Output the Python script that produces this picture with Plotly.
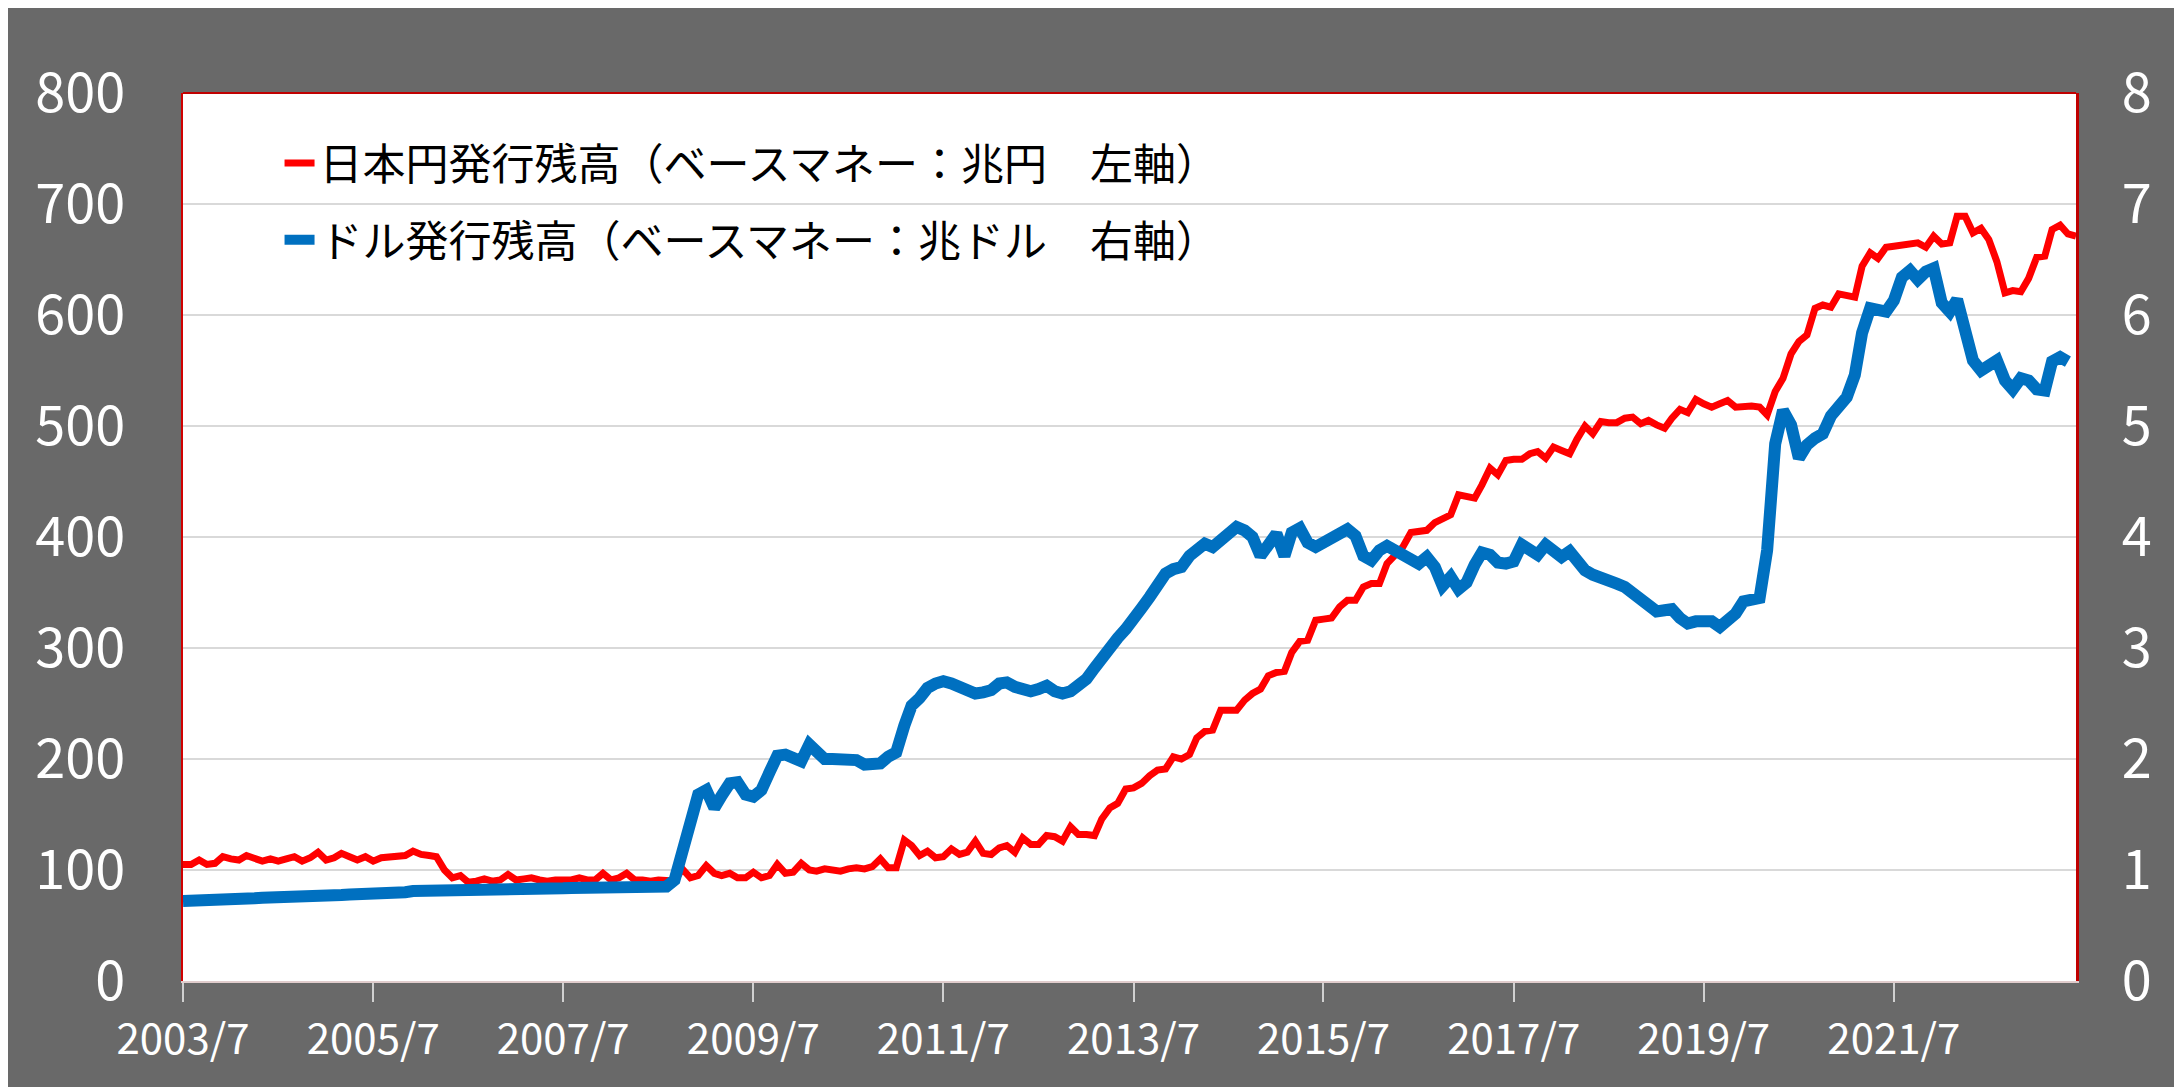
import pandas as pd
import plotly.graph_objects as go

# monthly observations, 2003/7 .. 2023/6
months = pd.date_range('2003-07-01', periods=240, freq='MS')

# 日本円 monetary base (兆円, left axis)
yen_base = [
    105, 105, 109, 105, 106, 112, 110, 109, 113, 110,
    108, 110, 108, 110, 112, 108, 111, 116, 109, 111,
    115, 112, 109, 112, 108, 111, 112, 112, 113, 117,
    114, 113, 112, 100, 93, 95, 89, 90, 92, 90,
    91, 96, 91, 92, 93, 91, 90, 91, 91, 91,
    93, 91, 91, 97, 91, 93, 97, 91, 91, 90,
    91, 90, 90, 101, 93, 95, 104, 97, 95, 97,
    93, 93, 98, 93, 95, 105, 97, 98, 106, 100,
    99, 101, 100, 99, 101, 102, 101, 103, 110, 102,
    102, 127, 122, 113, 117, 111, 112, 119, 114, 116,
    126, 115, 114, 120, 122, 116, 129, 123, 123, 131,
    130, 126, 139, 132, 132, 131, 146, 156, 160, 173,
    174, 178, 185, 190, 191, 202, 200, 204, 219, 225,
    226, 244, 244, 244, 253, 259, 263, 275, 278, 279,
    296, 306, 307, 325, 326, 327, 337, 343, 343, 355,
    358, 358, 376, 384, 391, 404, 405, 406, 413, 417,
    420, 438, 436, 435, 447, 462, 456, 469, 470, 470,
    475, 477, 471, 481, 478, 475, 488, 500, 493, 504,
    503, 503, 507, 508, 502, 505, 501, 498, 507, 515,
    512, 524, 520, 517, 520, 523, 517, 518, 518, 517,
    510, 531, 543, 565, 576, 582, 606, 609, 607, 619,
    617, 616, 644, 656, 651, 661, 662, 663, 664, 665,
    661, 671, 664, 665, 689, 689, 674, 678, 668, 648,
    620, 622, 621, 633, 652, 653, 677, 681, 673, 671,
]

# ドル monetary base (兆ドル, right axis), ends one month earlier
usd_base = [
    0.72, 0.72, 0.725, 0.73, 0.735, 0.74, 0.74, 0.74, 0.745, 0.745,
    0.75, 0.75, 0.755, 0.76, 0.76, 0.765, 0.77, 0.775, 0.775, 0.775,
    0.775, 0.78, 0.78, 0.785, 0.785, 0.79, 0.79, 0.795, 0.80, 0.81,
    0.81, 0.815, 0.815, 0.82, 0.82, 0.82, 0.82, 0.82, 0.82, 0.82,
    0.825, 0.835, 0.83, 0.83, 0.83, 0.832, 0.834, 0.835, 0.835, 0.838,
    0.838, 0.835, 0.838, 0.842, 0.838, 0.84, 0.842, 0.845, 0.845, 0.848,
    0.85, 0.85, 0.91, 1.18, 1.50, 1.68, 1.72, 1.56, 1.67, 1.78,
    1.79, 1.68, 1.66, 1.72, 1.88, 2.03, 2.04, 2.02, 1.98, 2.13,
    2.08, 2.00, 2.00, 1.99, 1.99, 1.99, 1.95, 1.96, 1.96, 2.02,
    2.06, 2.30, 2.48, 2.55, 2.64, 2.68, 2.70, 2.68, 2.65, 2.62,
    2.59, 2.60, 2.62, 2.68, 2.69, 2.65, 2.62, 2.61, 2.63, 2.66,
    2.61, 2.59, 2.61, 2.66, 2.72, 2.82, 2.92, 2.99, 3.09, 3.17,
    3.25, 3.36, 3.46, 3.56, 3.67, 3.71, 3.73, 3.83, 3.89, 3.94,
    3.91, 3.96, 4.01, 4.09, 4.06, 4.00, 3.83, 3.94, 4.03, 3.83,
    4.04, 4.08, 3.95, 3.91, 3.95, 3.97, 4.02, 4.07, 4.01, 3.83,
    3.79, 3.88, 3.92, 3.88, 3.83, 3.82, 3.76, 3.82, 3.73, 3.56,
    3.64, 3.53, 3.59, 3.75, 3.86, 3.84, 3.77, 3.76, 3.78, 3.93,
    3.88, 3.84, 3.93, 3.87, 3.82, 3.87, 3.79, 3.70, 3.66, 3.64,
    3.61, 3.58, 3.55, 3.50, 3.44, 3.38, 3.33, 3.34, 3.35, 3.27,
    3.22, 3.24, 3.24, 3.24, 3.19, 3.25, 3.31, 3.42, 3.44, 3.45,
    3.88, 4.84, 5.14, 5.01, 4.71, 4.83, 4.89, 4.93, 5.09, 5.19,
    5.26, 5.46, 5.84, 6.06, 6.04, 6.03, 6.13, 6.34, 6.40, 6.32,
    6.39, 6.42, 6.11, 6.03, 6.14, 5.86, 5.59, 5.50, 5.53, 5.59,
    5.41, 5.33, 5.43, 5.41, 5.33, 5.32, 5.58, 5.62, 5.58,
]

x_ticks = pd.date_range('2003-07-01', '2021-07-01', freq='24MS')
x_tick_text = [f'{d.year}/{d.month}' for d in x_ticks]
left_ticks = list(range(0, 801, 100))
right_ticks = list(range(0, 9))

yen_name = '日本円発行残高（ベースマネー：兆円　左軸）'
usd_name = 'ドル発行残高（ベースマネー：兆ドル　右軸）'

fig = go.Figure()

fig.add_trace(go.Scatter(
    x=months, y=yen_base, name=yen_name, mode='lines',
    line=dict(color='#ff0000', width=7), legendgroup='jpy',
))
fig.add_trace(go.Scatter(
    x=months[:len(usd_base)], y=usd_base, name=usd_name, mode='lines',
    yaxis='y2', line=dict(color='#0070c0', width=12), legendgroup='usd',
))

# the page itself adds an 8px white margin at top / left
fig.update_layout(
    width=2182, height=1087,
    margin=dict(l=175, r=114, t=85, b=114),
    paper_bgcolor='#696969',
    plot_bgcolor='white',
    font=dict(family='Noto Sans CJK JP', color='white'),
    legend=dict(
        x=0.051, y=0.96, xanchor='left', yanchor='top',
        bgcolor='rgba(0,0,0,0)',
        font=dict(size=43, color='black'),
        traceorder='grouped', tracegroupgap=18,
    ),
    xaxis=dict(
        type='date', range=[months[0], months[-1]],
        tickvals=x_ticks, ticktext=x_tick_text,
        ticks='outside', ticklen=19, tickwidth=2, tickcolor='#d0d0d0',
        showgrid=False, zeroline=False,
        showline=True, linecolor='#e0cccc', linewidth=2,
        tickfont=dict(size=42, color='white'), ticklabelstandoff=2,
    ),
    yaxis=dict(
        range=[0, 800], tickvals=left_ticks,
        showgrid=True, gridcolor='#d9d9d9', gridwidth=2, zeroline=False,
        showline=True, linecolor='#d00000', linewidth=2,
        tickfont=dict(size=54, color='white'), ticklabelstandoff=45,
    ),
    yaxis2=dict(
        overlaying='y', side='right', range=[0, 8], tickvals=right_ticks,
        showgrid=False, zeroline=False,
        showline=True, linecolor='#c00000', linewidth=3,
        tickfont=dict(size=54, color='white'), ticklabelstandoff=32,
    ),
    shapes=[
        # red top border of the plot area
        dict(type='line', xref='paper', yref='paper',
             x0=0, x1=1, y0=1, y1=1, line=dict(color='#c00000', width=2)),
    ],
)

fig.write_html('out.html')
